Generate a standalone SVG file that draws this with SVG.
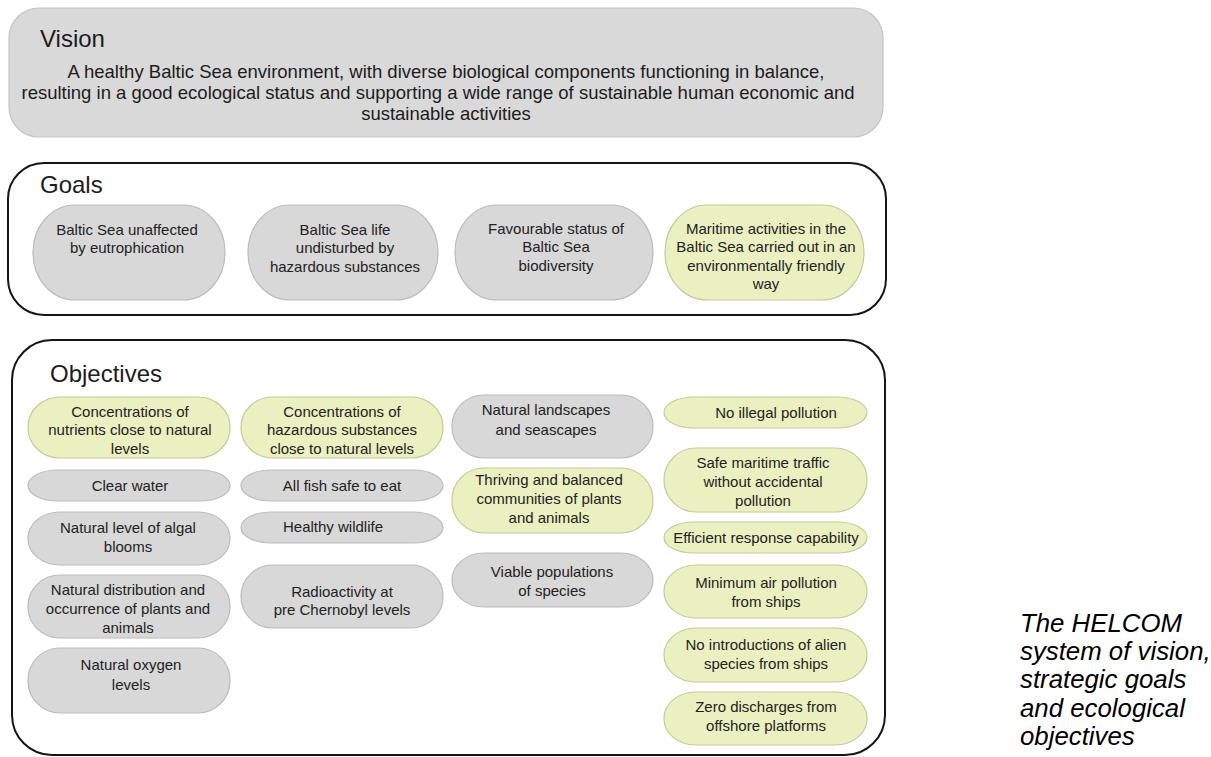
<svg xmlns="http://www.w3.org/2000/svg" width="1211" height="757" viewBox="0 0 1211 757">
<style>
.bg{fill:#ffffff}
.vis{fill:#d9d9d9;stroke:#c4c4c4;stroke-width:1.2}
.gray{fill:#d8d8d8;stroke:#bcbcbc;stroke-width:1.2}
.yel{fill:#ebf0c1;stroke:#c4ca98;stroke-width:1.2}
.frame{fill:none;stroke:#151515;stroke-width:2}
.h{font-family:"Liberation Sans",Arial,sans-serif;font-size:24px;fill:#1c1c1c}
.vt{font-family:"Liberation Sans",Arial,sans-serif;font-size:18.5px;fill:#1c1c1c;text-anchor:middle}
.t{font-family:"Liberation Sans",Arial,sans-serif;font-size:15px;fill:#222;text-anchor:middle}
.cap{font-family:"Liberation Sans",Arial,sans-serif;font-size:25.8px;font-style:italic;fill:#000}
</style>
<rect class="bg" x="0" y="0" width="1211" height="757"/>

<g id="vision">
<rect class="vis" x="9" y="8" width="874" height="129" rx="30" ry="30"/>
<text class="h" x="40" y="47">Vision</text>
<text class="vt" x="446" y="78">A healthy Baltic Sea environment, with diverse biological components functioning in balance,</text>
<text class="vt" x="438" y="99">resulting in a good ecological status and supporting a wide range of sustainable human economic and</text>
<text class="vt" x="446" y="120">sustainable activities</text>
</g>

<g id="goals">
<rect class="frame" x="8" y="163" width="878" height="152" rx="36" ry="36"/>
<text class="h" x="40" y="193">Goals</text>
</g>
<g id="goal-eutrophication">
<rect class="gray" x="33" y="205" width="192" height="95" rx="42" ry="47"/>
<text class="t" x="127" y="235">Baltic Sea unaffected</text>
<text class="t" x="127" y="253">by eutrophication</text>
</g>
<g id="goal-hazardous">
<rect class="gray" x="248" y="205" width="190" height="95" rx="42" ry="47"/>
<text class="t" x="345" y="235">Baltic Sea life</text>
<text class="t" x="345" y="253">undisturbed by</text>
<text class="t" x="345" y="272">hazardous substances</text>
</g>
<g id="goal-biodiversity">
<rect class="gray" x="455" y="205" width="198" height="95" rx="42" ry="47"/>
<text class="t" x="556" y="234">Favourable status  of</text>
<text class="t" x="556" y="252">Baltic Sea</text>
<text class="t" x="556" y="271">biodiversity</text>
</g>
<g id="goal-maritime">
<rect class="yel" x="665" y="205" width="199" height="95" rx="42" ry="47"/>
<text class="t" x="766" y="234">Maritime activities in the</text>
<text class="t" x="766" y="252">Baltic Sea carried out in an</text>
<text class="t" x="766" y="271">environmentally friendly</text>
<text class="t" x="766" y="289">way</text>
</g>

<g id="objectives">
<rect class="frame" x="12" y="340" width="873" height="415" rx="40" ry="40"/>
<text class="h" x="50" y="382">Objectives</text>
</g>

<g id="obj-nutrients">
<rect class="yel" x="28" y="397" width="202" height="61" rx="32" ry="30"/>
<text class="t" x="130" y="417">Concentrations of</text>
<text class="t" x="130" y="435">nutrients close to natural</text>
<text class="t" x="130" y="454">levels</text>
</g>
<g id="obj-clear-water">
<rect class="gray" x="28" y="470" width="202" height="31" rx="30" ry="15.5"/>
<text class="t" x="130" y="491">Clear water</text>
</g>
<g id="obj-algal">
<rect class="gray" x="28" y="512" width="202" height="53" rx="32" ry="26"/>
<text class="t" x="128" y="533">Natural level of algal</text>
<text class="t" x="128" y="552">blooms</text>
</g>
<g id="obj-distribution">
<rect class="gray" x="28" y="575" width="202" height="63" rx="32" ry="31"/>
<text class="t" x="128" y="595">Natural distribution and</text>
<text class="t" x="128" y="614">occurrence of plants and</text>
<text class="t" x="128" y="633">animals</text>
</g>
<g id="obj-oxygen">
<rect class="gray" x="28" y="648" width="202" height="65" rx="32" ry="32"/>
<text class="t" x="131" y="670">Natural oxygen</text>
<text class="t" x="131" y="690">levels</text>
</g>

<g id="obj-hazardous">
<rect class="yel" x="241" y="397" width="202" height="61" rx="32" ry="30"/>
<text class="t" x="342" y="417">Concentrations of</text>
<text class="t" x="342" y="435">hazardous substances</text>
<text class="t" x="342" y="454">close to natural levels</text>
</g>
<g id="obj-fish">
<rect class="gray" x="241" y="470" width="202" height="31" rx="30" ry="15.5"/>
<text class="t" x="342" y="491">All fish safe to eat</text>
</g>
<g id="obj-wildlife">
<rect class="gray" x="241" y="512" width="202" height="31" rx="30" ry="15.5"/>
<text class="t" x="333" y="532">Healthy wildlife</text>
</g>
<g id="obj-radioactivity">
<rect class="gray" x="241" y="565" width="202" height="63" rx="32" ry="31"/>
<text class="t" x="342" y="597">Radioactivity at</text>
<text class="t" x="342" y="615">pre Chernobyl levels</text>
</g>

<g id="obj-landscapes">
<rect class="gray" x="452" y="395" width="201" height="63" rx="32" ry="31"/>
<text class="t" x="546" y="415">Natural landscapes</text>
<text class="t" x="546" y="435">and seascapes</text>
</g>
<g id="obj-communities">
<rect class="yel" x="452" y="468" width="201" height="65" rx="32" ry="32"/>
<text class="t" x="549" y="485">Thriving and balanced</text>
<text class="t" x="549" y="504">communities of plants</text>
<text class="t" x="549" y="523">and animals</text>
</g>
<g id="obj-populations">
<rect class="gray" x="452" y="553" width="201" height="54" rx="32" ry="27"/>
<text class="t" x="552" y="577">Viable populations</text>
<text class="t" x="552" y="596">of species</text>
</g>

<g id="obj-illegal">
<rect class="yel" x="664" y="397" width="203" height="31" rx="30" ry="15.5"/>
<text class="t" x="776" y="418">No illegal pollution</text>
</g>
<g id="obj-safe-traffic">
<rect class="yel" x="664" y="448" width="203" height="64" rx="32" ry="32"/>
<text class="t" x="763" y="468">Safe maritime traffic</text>
<text class="t" x="763" y="487">without accidental</text>
<text class="t" x="763" y="506">pollution</text>
</g>
<g id="obj-response">
<rect class="yel" x="664" y="522" width="203" height="31" rx="30" ry="15.5"/>
<text class="t" x="766" y="543">Efficient response capability</text>
</g>
<g id="obj-air">
<rect class="yel" x="664" y="565" width="203" height="53" rx="32" ry="26"/>
<text class="t" x="766" y="588">Minimum air pollution</text>
<text class="t" x="766" y="607">from ships</text>
</g>
<g id="obj-alien">
<rect class="yel" x="664" y="628" width="203" height="54" rx="32" ry="27"/>
<text class="t" x="766" y="650">No introductions of alien</text>
<text class="t" x="766" y="669">species from ships</text>
</g>
<g id="obj-offshore">
<rect class="yel" x="664" y="692" width="203" height="53" rx="32" ry="26"/>
<text class="t" x="766" y="712">Zero discharges from</text>
<text class="t" x="766" y="731">offshore platforms</text>
</g>

<g id="caption">
<text class="cap" x="1020" y="632">The HELCOM</text>
<text class="cap" x="1020" y="660">system of vision,</text>
<text class="cap" x="1020" y="688">strategic goals</text>
<text class="cap" x="1020" y="717">and ecological</text>
<text class="cap" x="1020" y="745">objectives</text>
</g>
</svg>
